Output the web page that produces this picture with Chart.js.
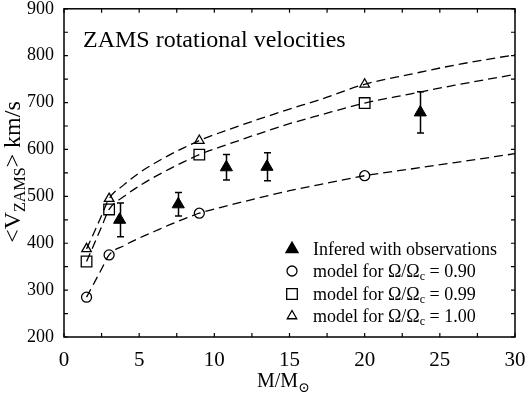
<!DOCTYPE html>
<html>
<head>
<meta charset="utf-8">
<script src="https://cdn.jsdelivr.net/npm/chart.js@4.4.1/dist/chart.umd.min.js"></script>
<style>
html,body{margin:0;padding:0;background:#fff;}
#wrap{width:527px;height:397px;position:relative;}
</style>
</head>
<body>
<div id="wrap"><canvas id="c" width="527" height="397"></canvas></div>
<script>
// ---- data ----
const modelMass = [1.5, 3, 9, 20];
const model090 = [285, 375, 464, 544];
const model099 = [361, 472, 589, 699];
const model100 = [388, 495, 619, 739];

const obsMass = [3.7, 7.6, 10.8, 13.5, 23.7];
const obsVel = [450, 483, 562, 563, 679];
const obsErr = [36, 25, 27, 30, 44];

const curveMass = [1.5, 2, 2.5, 3, 4, 5, 6, 7, 8, 9, 11, 13, 15, 17, 20, 23, 26, 30];
const curve090 = [285, 315, 345, 375, 395, 411, 425, 439, 452, 464, 481, 497, 512, 525, 544, 558, 572, 591];
const curve099 = [361, 398, 435, 472, 500, 522, 541, 558, 574, 589, 612, 634, 655, 673, 699, 718, 737, 760];
const curve100 = [388, 423, 459, 495, 525, 550, 570, 588, 604, 619, 643, 665, 686, 706, 739, 760, 780, 802];

const legendLabels = ["Infered with observations", "model for Ω/Ω", "model for Ω/Ω", "model for Ω/Ω"];
const legendValues = ["", "0.90", "0.99", "1.00"];
const chartTitle = "ZAMS rotational velocities";

const SERIF = "'Liberation Serif', 'DejaVu Serif', serif";
const pts = (xs, ys) => xs.map((x, i) => ({x: x, y: ys[i]}));

const curveStyle = {
  type: 'line', borderColor: '#000', borderWidth: 1.3, borderDash: [9, 5],
  pointRadius: 0, fill: false, cubicInterpolationMode: 'monotone', showLine: true
};
const markStyle = {
  type: 'scatter', borderColor: '#000', backgroundColor: 'rgba(0,0,0,0)', borderWidth: 1.3
};

const errorBars = {
  id: 'errorBars',
  afterDatasetsDraw(chart) {
    const ctx = chart.ctx, xs = chart.scales.x, ys = chart.scales.y;
    ctx.save();
    ctx.strokeStyle = '#000'; ctx.lineWidth = 1.5;
    obsMass.forEach((m, i) => {
      const px = Math.round(xs.getPixelForValue(m)) + 0.5;
      const top = ys.getPixelForValue(obsVel[i] + obsErr[i]);
      const bot = ys.getPixelForValue(obsVel[i] - obsErr[i]);
      ctx.beginPath();
      ctx.moveTo(px, top); ctx.lineTo(px, bot);
      ctx.moveTo(px - 3.5, top); ctx.lineTo(px + 3.5, top);
      ctx.moveTo(px - 3.5, bot); ctx.lineTo(px + 3.5, bot);
      ctx.stroke();
    });
    ctx.restore();
  }
};

const frame = {
  id: 'frame',
  afterDraw(chart) {
    const ctx = chart.ctx, a = chart.chartArea, xs = chart.scales.x, ys = chart.scales.y;
    ctx.save();
    ctx.strokeStyle = '#000'; ctx.lineWidth = 1.5;
    ctx.strokeRect(a.left, a.top, a.right - a.left, a.bottom - a.top);
    ctx.lineWidth = 1.2;
    ctx.beginPath();
    xs.ticks.forEach(t => {
      const px = xs.getPixelForValue(t.value);
      ctx.moveTo(px, a.bottom); ctx.lineTo(px, a.bottom - 4);
      ctx.moveTo(px, a.top); ctx.lineTo(px, a.top + 4);
    });
    ys.ticks.forEach(t => {
      const py = ys.getPixelForValue(t.value);
      ctx.moveTo(a.left, py); ctx.lineTo(a.left + 4, py);
      ctx.moveTo(a.right, py); ctx.lineTo(a.right - 4, py);
    });
    ctx.stroke();

    // title inside plot
    ctx.fillStyle = '#000';
    ctx.font = "24px " + SERIF;
    ctx.textBaseline = 'alphabetic'; ctx.textAlign = 'left';
    ctx.fillText(chartTitle, 83, 47);

    // legend
    const styles = [
      {pointStyle: 'triangle', radius: 7, fill: '#000'},
      {pointStyle: 'circle', radius: 5, fill: 'rgba(0,0,0,0)'},
      {pointStyle: 'rect', radius: 7.5, fill: 'rgba(0,0,0,0)'},
      {pointStyle: 'triangle', radius: 5.5, fill: 'rgba(0,0,0,0)'}
    ];
    const rowY = [249, 271, 294, 316];
    styles.forEach((s, i) => {
      ctx.fillStyle = s.fill; ctx.strokeStyle = '#000'; ctx.lineWidth = 1.3;
      Chart.helpers.drawPoint(ctx, {pointStyle: s.pointStyle, radius: s.radius, borderWidth: 1.3, rotation: 0}, 292, rowY[i]);
      ctx.fillStyle = '#000';
      ctx.font = "18px " + SERIF;
      let x = 313; const base = rowY[i] + 6;
      ctx.fillText(legendLabels[i], x, base);
      if (legendValues[i]) {
        x += ctx.measureText(legendLabels[i]).width;
        ctx.font = "12px " + SERIF;
        ctx.fillText("c", x, base + 3);
        x += ctx.measureText("c").width;
        ctx.font = "18px " + SERIF;
        ctx.fillText(" = " + legendValues[i], x, base);
      }
    });

    // x title
    ctx.font = "20px " + SERIF;
    let xt = 257;
    ctx.fillText("M/M", xt, 387);
    xt += ctx.measureText("M/M").width;
    ctx.font = "14px " + SERIF;
    ctx.fillText("\u2299", xt, 392);

    // y title (rotated)
    ctx.translate(20, 172);
    ctx.rotate(-Math.PI / 2);
    ctx.font = "24px " + SERIF;
    const p1 = "<V", p2 = "ZAMS", p3 = "> km/s";
    const w1 = ctx.measureText(p1).width, w3 = ctx.measureText(p3).width;
    ctx.font = "16px " + SERIF;
    const w2 = ctx.measureText(p2).width;
    let sx = -(w1 + w2 + w3) / 2;
    ctx.font = "24px " + SERIF;
    ctx.fillText(p1, sx, 0); sx += w1;
    ctx.font = "16px " + SERIF;
    ctx.fillText(p2, sx, 5); sx += w2;
    ctx.font = "24px " + SERIF;
    ctx.fillText(p3, sx, 0);
    ctx.restore();
  }
};

function zeroPad(s) { s.paddingTop = 0; s.paddingBottom = 0; s.paddingLeft = 0; s.paddingRight = 0; }

new Chart(document.getElementById('c'), {
  data: {
    datasets: [
      Object.assign({label: 'curve 0.90', data: pts(curveMass, curve090)}, curveStyle),
      Object.assign({label: 'curve 0.99', data: pts(curveMass, curve099)}, curveStyle),
      Object.assign({label: 'curve 1.00', data: pts(curveMass, curve100)}, curveStyle),
      Object.assign({label: 'model 0.90', data: pts(modelMass, model090), pointStyle: 'circle', pointRadius: 5}, markStyle),
      Object.assign({label: 'model 0.99', data: pts(modelMass, model099), pointStyle: 'rect', pointRadius: 7.5}, markStyle),
      Object.assign({label: 'model 1.00', data: pts(modelMass, model100), pointStyle: 'triangle', pointRadius: 5.5}, markStyle),
      {type: 'scatter', label: 'observations', data: pts(obsMass, obsVel), pointStyle: 'triangle', pointRadius: 7,
       backgroundColor: '#000', borderColor: '#000', borderWidth: 1}
    ]
  },
  options: {
    responsive: false, animation: false, devicePixelRatio: 1,
    layout: {padding: {top: 6, right: 12, left: 0, bottom: 0}},
    plugins: {legend: {display: false}, tooltip: {enabled: false}, title: {display: false}},
    scales: {
      x: {
        type: 'linear', min: 0, max: 30,
        grid: {display: false, drawTicks: false}, border: {display: false},
        afterFit(s) { s.height = 60; zeroPad(s); },
        afterBuildTicks(s) { const t = []; for (let v = 0; v <= 30; v += 2.5) t.push({value: v}); s.ticks = t; },
        ticks: {
          autoSkip: false, maxRotation: 0, padding: 11, color: '#000',
          font: {family: SERIF, size: 21},
          callback: v => (v % 5 === 0 ? String(v) : '')
        }
      },
      y: {
        type: 'linear', min: 200, max: 900,
        grid: {display: false, drawTicks: false}, border: {display: false},
        afterFit(s) { s.width = 64; zeroPad(s); },
        afterBuildTicks(s) { const t = []; for (let v = 200; v <= 900; v += 50) t.push({value: v}); s.ticks = t; },
        ticks: {
          autoSkip: false, padding: 10, color: '#000',
          font: {family: SERIF, size: 18},
          callback: v => (v % 100 === 0 ? String(v) : '')
        }
      }
    }
  },
  plugins: [errorBars, frame]
});
</script>
</body>
</html>
